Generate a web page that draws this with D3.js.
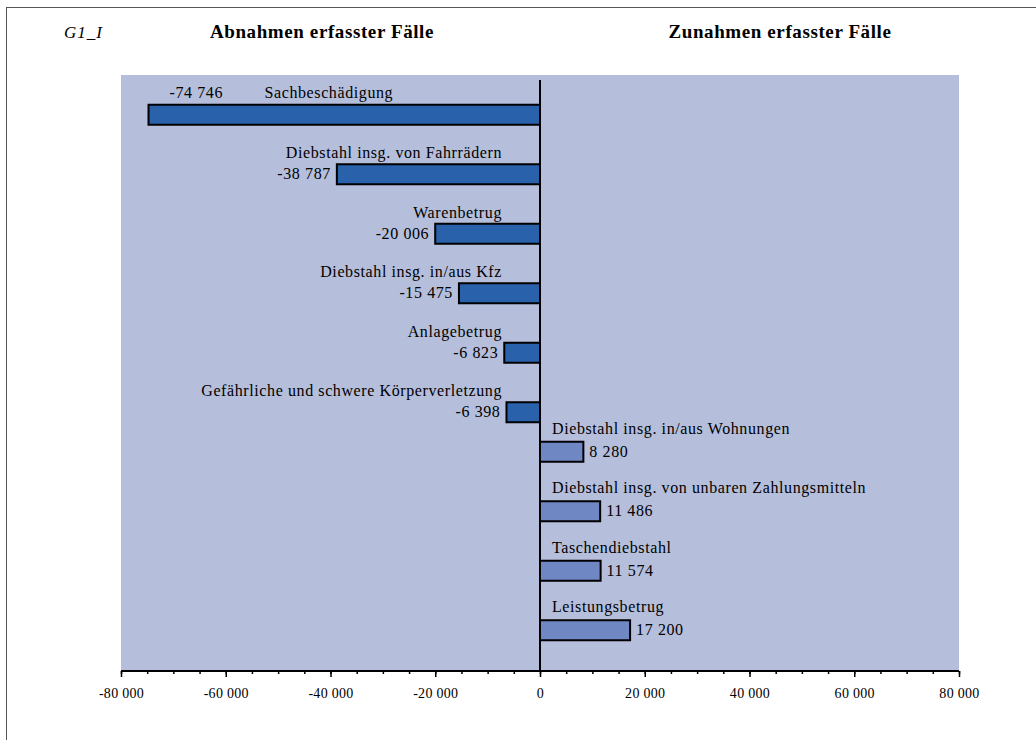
<!DOCTYPE html>
<html>
<head>
<meta charset="utf-8">
<script src="https://cdn.jsdelivr.net/npm/d3@7"></script>
<style>
  body { margin: 0; background: #fff; }
  text { font-family: "Liberation Serif", "Times New Roman", serif; fill: #000; }
</style>
</head>
<body>
<div id="chart"></div>
<script>
// categories, top to bottom
var categories = [
  "Sachbeschädigung",
  "Diebstahl insg. von Fahrrädern",
  "Warenbetrug",
  "Diebstahl insg. in/aus Kfz",
  "Anlagebetrug",
  "Gefährliche und schwere Körperverletzung",
  "Diebstahl insg. in/aus Wohnungen",
  "Diebstahl insg. von unbaren Zahlungsmitteln",
  "Taschendiebstahl",
  "Leistungsbetrug"
];
// Abnahmen (negative) and Zunahmen (positive) per category
var abnahmen = [-74746, -38787, -20006, -15475, -6823, -6398, null, null, null, null];
var zunahmen = [null, null, null, null, null, null, 8280, 11486, 11574, 17200];
var tickValues = [-80000, -60000, -40000, -20000, 0, 20000, 40000, 60000, 80000];

var W = 1036, H = 740;
var plot = {left: 121, right: 959, top: 75, bottom: 671};

var de = d3.formatLocale({decimal: ",", thousands: " ", grouping: [3], currency: ["", ""], minus: "-"});
var fmt = de.format(",d");

var svg = d3.select("#chart").append("svg")
  .attr("width", W).attr("height", H);

// outer frame
svg.append("rect")
  .attr("x", 6.5).attr("y", 7.5)
  .attr("width", W + 20).attr("height", H + 20)
  .attr("fill", "none").attr("stroke", "#555").attr("stroke-width", 1);

// headings
svg.append("text").attr("x", 64).attr("y", 38)
  .style("font-style", "italic").style("font-size", "17px")
  .style("letter-spacing", "1px").text("G1_I");
svg.append("text").attr("x", 322).attr("y", 38).attr("text-anchor", "middle")
  .style("font-weight", "bold").style("font-size", "19px")
  .style("letter-spacing", "0.6px").text("Abnahmen erfasster Fälle");
svg.append("text").attr("x", 780).attr("y", 38).attr("text-anchor", "middle")
  .style("font-weight", "bold").style("font-size", "19px")
  .style("letter-spacing", "0.6px").text("Zunahmen erfasster Fälle");

// plot background
svg.append("rect")
  .attr("x", plot.left).attr("y", plot.top)
  .attr("width", plot.right - plot.left).attr("height", plot.bottom - plot.top)
  .attr("fill", "#b5bedb");

var x = d3.scaleLinear().domain([-80000, 80000]).range([plot.left, plot.right]);
var y = d3.scaleBand().domain(categories).range([plot.top, plot.bottom - 1]);
var sub = d3.scaleBand().domain(["zu", "ab"])
  .range([y.bandwidth() / 2 - 20, y.bandwidth() / 2 + 20]);

var rows = categories.map(function(c, i) {
  return abnahmen[i] != null
    ? {cat: c, v: abnahmen[i], s: "ab"}
    : {cat: c, v: zunahmen[i], s: "zu"};
});

function barY(d) { return y(d.cat) + sub(d.s); }
function midY(d) { return barY(d) + sub.bandwidth() / 2; }

// bars
svg.selectAll("rect.bar")
  .data(rows).enter().append("rect")
  .attr("class", "bar")
  .attr("x", function(d) { return Math.min(x(0), x(d.v)); })
  .attr("y", barY)
  .attr("width", function(d) { return Math.abs(x(d.v) - x(0)); })
  .attr("height", sub.bandwidth())
  .attr("fill", function(d) { return d.s == "ab" ? "#2961aa" : "#6f88c4"; })
  .attr("stroke", "#000").attr("stroke-width", 2);

// zero line
svg.append("line")
  .attr("x1", x(0)).attr("x2", x(0))
  .attr("y1", plot.top + 5).attr("y2", plot.bottom)
  .attr("stroke", "#000").attr("stroke-width", 2);

// labels
var lab = svg.append("g").style("font-size", "16px").style("letter-spacing", "0.6px");
rows.forEach(function(d) {
  var m = midY(d);
  if (d.s == "zu") {
    lab.append("text").attr("x", x(0) + 12).attr("y", m - 18).text(d.cat);
    lab.append("text").attr("x", x(d.v) + 6).attr("y", m + 5).text(fmt(d.v));
  } else if (d.v < -50000) {
    // long bar: value and name above the bar
    lab.append("text").attr("x", x(d.v) + 21).attr("y", m - 17).text(fmt(d.v));
    lab.append("text").attr("x", x(d.v) + 116).attr("y", m - 17).text(d.cat);
  } else {
    lab.append("text").attr("x", x(0) - 38).attr("y", m - 16)
      .attr("text-anchor", "end").text(d.cat);
    lab.append("text").attr("x", x(d.v) - 6).attr("y", m + 5)
      .attr("text-anchor", "end").text(fmt(d.v));
  }
});

// x axis with minor ticks
var axisG = svg.append("g").attr("transform", "translate(0," + plot.bottom + ")");
axisG.call(d3.axisBottom(x).tickValues(d3.range(-80000, 80001, 5000))
  .tickSize(3).tickFormat(""));
axisG.selectAll(".tick line").attr("stroke-width", 1.5);
axisG.select(".domain").attr("stroke-width", 2).attr("d", "M" + plot.left + ",0H" + plot.right);

var major = svg.append("g").attr("transform", "translate(0," + plot.bottom + ")")
  .call(d3.axisBottom(x).tickValues(tickValues).tickSize(6).tickPadding(11)
    .tickFormat(fmt));
major.select(".domain").remove();
major.selectAll(".tick line").attr("stroke-width", 1.5);
major.selectAll("text")
  .attr("font-size", null).attr("font-family", null)
  .style("font-size", "14px").style("letter-spacing", "0.3px")
  .style("font-family", "Liberation Serif, Times New Roman, serif");
major.attr("font-size", 14).attr("font-family", "Liberation Serif");
</script>
</body>
</html>
